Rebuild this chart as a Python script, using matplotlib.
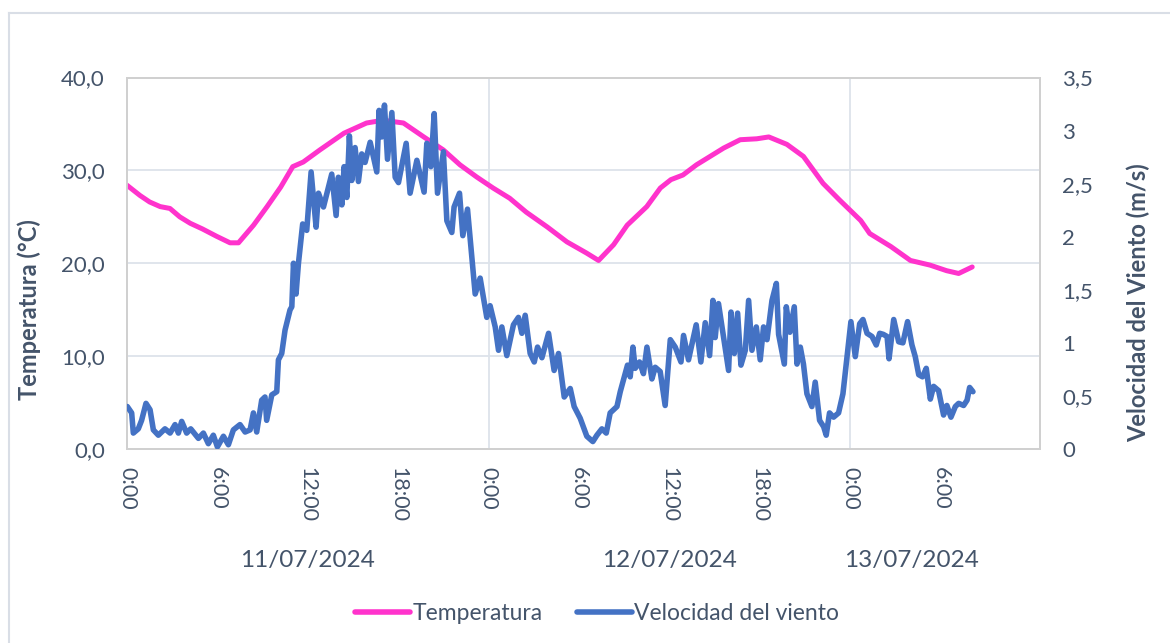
import matplotlib
matplotlib.use('Agg')
import matplotlib.pyplot as plt
from matplotlib.lines import Line2D
from matplotlib.ticker import FuncFormatter
from matplotlib import transforms

# hours since 11/07/2024 0:00
temp_hours = [0.0, 0.86, 1.5, 2.2, 2.85, 3.5, 4.2, 5.0, 5.95, 6.84, 7.4, 8.4, 9.3,
              10.2, 11.0, 11.7, 12.8, 14.4, 15.9, 17.0, 18.35, 19.7, 21.0, 22.1,
              23.2, 24.3, 25.4, 26.5, 27.9, 29.2, 30.5, 31.3, 32.3, 33.2, 34.5,
              35.4, 36.1, 36.9, 37.8, 38.7, 39.6, 40.7, 41.8, 42.6, 43.8, 44.9,
              46.2, 47.3, 48.7, 49.3, 50.7, 52.0, 53.3, 54.4, 55.2, 56.1]
temperatura = [28.4, 27.3, 26.6, 26.1, 25.9, 25.0, 24.3, 23.7, 22.9, 22.2, 22.2, 24.1, 26.1,
               28.2, 30.4, 30.9, 32.2, 34.0, 35.1, 35.4, 35.1, 33.6, 32.2, 30.6,
               29.3, 28.1, 27.0, 25.5, 23.9, 22.3, 21.1, 20.3, 22.0, 24.1, 26.1,
               28.1, 29.0, 29.5, 30.6, 31.5, 32.4, 33.3, 33.4, 33.6, 32.8, 31.5,
               28.6, 26.8, 24.6, 23.2, 21.8, 20.3, 19.8, 19.2, 18.9, 19.6]

wind_hours = [0.02, 0.31, 0.42, 0.75, 0.97, 1.26, 1.53, 1.75, 2.08, 2.52, 2.86, 3.19,
              3.41, 3.63, 3.96, 4.23, 4.74, 5.07, 5.40, 5.73, 6.0, 6.40, 6.73, 7.06,
              7.50, 7.84, 8.17, 8.39, 8.61, 8.94, 9.16, 9.27, 9.61, 9.94, 10.05,
              10.27, 10.49, 10.82, 10.94, 11.05, 11.22, 11.38,
              11.66, 11.93, 12.22, 12.55, 12.71, 13.04, 13.59, 13.88, 14.03, 14.26,
              14.41, 14.59, 14.76, 14.92, 15.14, 15.36, 15.58, 15.80, 16.14, 16.58,
              16.73, 16.91, 17.09, 17.29, 17.58, 17.80, 18.02, 18.53, 18.79, 19.24,
              19.72, 19.90, 20.17, 20.39, 20.61, 21.0, 21.23, 21.56, 21.71, 22.07,
              22.29, 22.60, 22.89, 23.11, 23.44,
              23.88, 24.10, 24.44, 24.66, 24.88, 25.21, 25.65, 25.98, 26.21, 26.43,
              26.76, 27.03, 27.25, 27.54, 27.98, 28.35, 28.64, 29.02, 29.42, 29.68,
              30.08, 30.52, 30.92, 31.19, 31.52, 31.81, 32.07, 32.52, 32.74, 33.22,
              33.40, 33.58, 33.73, 34.02, 34.28, 34.51, 34.84, 35.06,
              35.39, 35.72, 36.06, 36.39, 36.77, 36.94, 37.27, 37.78, 38.09, 38.38,
              38.67, 38.89, 39.04, 39.26, 39.60, 39.93, 40.09, 40.31, 40.53, 40.75,
              41.04, 41.26, 41.48, 41.77, 42.03, 42.25, 42.48, 42.81, 43.10, 43.25,
              43.63, 43.76, 44.0, 44.29, 44.47, 44.69, 44.90, 45.13, 45.46, 45.68,
              45.97, 46.24, 46.41, 46.63, 46.90, 47.23, 47.52, 47.79, 48.05, 48.34,
              48.63, 48.85, 49.12, 49.45, 49.73, 49.96, 50.20, 50.45, 50.58, 50.89,
              51.22, 51.50, 51.81, 52.10, 52.32, 52.55, 52.80, 53.05, 53.32, 53.54,
              53.87, 54.20, 54.42, 54.69, 54.98, 55.20, 55.53, 55.76, 55.93, 56.15]
viento = [0.40, 0.34, 0.15, 0.19, 0.27, 0.43, 0.37, 0.18, 0.13, 0.19, 0.15, 0.23,
          0.15, 0.26, 0.15, 0.19, 0.10, 0.15, 0.05, 0.13, 0.02, 0.12, 0.04, 0.18,
          0.23, 0.16, 0.18, 0.34, 0.16, 0.46, 0.49, 0.27, 0.51, 0.54, 0.84,
          0.90, 1.12, 1.31, 1.34, 1.75, 1.46, 1.75,
          2.12, 2.06, 2.61, 2.09, 2.41, 2.28, 2.59, 2.20, 2.56, 2.30,
          2.66, 2.37, 2.95, 2.53, 2.84, 2.52, 2.78, 2.70, 2.89, 2.61,
          3.19, 2.94, 3.24, 2.73, 3.17, 2.56, 2.51, 2.88, 2.41, 2.72,
          2.42, 2.88, 2.66, 3.16, 2.41, 2.80, 2.15, 2.04, 2.28, 2.41,
          2.01, 2.26, 1.81, 1.46, 1.61,
          1.24, 1.35, 1.15, 0.93, 1.15, 0.88, 1.17, 1.24, 1.09, 1.26,
          0.90, 0.82, 0.96, 0.86, 1.09, 0.74, 0.90, 0.49, 0.57, 0.40,
          0.29, 0.12, 0.07, 0.13, 0.19, 0.15, 0.34, 0.40, 0.54, 0.79,
          0.68, 0.96, 0.76, 0.82, 0.71, 0.96, 0.66, 0.77,
          0.73, 0.41, 1.03, 0.96, 0.82, 1.07, 0.84, 1.17, 0.82, 1.19,
          0.88, 1.40, 1.05, 1.37, 1.05, 0.74, 1.29, 0.90, 1.28, 0.79,
          0.93, 1.40, 0.93, 1.15, 0.84, 1.15, 1.03, 1.40, 1.56, 1.08,
          0.80, 1.34, 1.10, 1.34, 0.80, 0.96, 0.80, 0.52, 0.40, 0.63,
          0.27, 0.21, 0.13, 0.34, 0.30, 0.34, 0.52, 0.87, 1.20, 0.87,
          1.18, 1.22, 1.09, 1.06, 0.98, 1.09, 1.08, 1.06, 0.85, 1.22,
          1.01, 1.00, 1.20, 0.98, 0.87, 0.70, 0.68, 0.76, 0.47, 0.59,
          0.55, 0.32, 0.41, 0.30, 0.40, 0.43, 0.41, 0.46, 0.58, 0.54]

day_labels = ['11/07/2024', '12/07/2024', '13/07/2024']

TEXT = '#44546A'
PINK = '#FF33CC'
BLUE = '#4472C4'
GRID = '#DDE3EA'
FRAME = '#D0D0D0'

plt.rcParams['font.family'] = ['Lato', 'DejaVu Sans']

fig = plt.figure(figsize=(11.7, 6.43), dpi=100)
ax = fig.add_axes([127 / 1170, 1 - 449 / 643, (1040 - 127) / 1170, (449 - 77.5) / 643])
ax2 = ax.twinx()

ax.plot(temp_hours, temperatura, color=PINK, lw=3.6, solid_capstyle='round',
        solid_joinstyle='round', zorder=3)
ax2.plot(wind_hours, viento, color=BLUE, lw=4.0, solid_capstyle='round',
         solid_joinstyle='round', zorder=3)

ax.set_xlim(0, 60.6)
ax.set_ylim(0, 40)
ax2.set_ylim(0, 3.5)

ax.set_yticks([0, 10, 20, 30, 40])
ax.yaxis.set_major_formatter(FuncFormatter(lambda v, p: f'{v:.1f}'.replace('.', ',')))
ax2.set_yticks([0, 0.5, 1, 1.5, 2, 2.5, 3, 3.5])
ax2.yaxis.set_major_formatter(FuncFormatter(lambda v, p: f'{v:g}'.replace('.', ',')))

xt = list(range(0, 55, 6))
ax.set_xticks(xt)
ax.set_xticklabels([f'{h % 24}:00' for h in xt], rotation=-90)

ax.tick_params(axis='x', length=0, pad=13, labelsize=15.5, labelcolor=TEXT)
ax.tick_params(axis='y', length=0, pad=16, labelsize=16, labelcolor=TEXT)
ax2.tick_params(axis='y', length=0, pad=16, labelsize=16, labelcolor=TEXT)

for a in (ax, ax2):
    for s in a.spines.values():
        s.set_color(FRAME)
        s.set_linewidth(1.3)

ax.grid(False)
for v in [10, 20, 30]:
    ax.axhline(v, color=GRID, lw=1.3, zorder=1)
for d in [24, 48]:
    ax.axvline(d, color=GRID, lw=1.3, zorder=1)

ax.set_ylabel('Temperatura (°C)', fontsize=17, fontweight='bold', color=TEXT)
ax.yaxis.set_label_coords(-(127 - 41) / 913, (449 - 310) / 371.5)
ax2.set_ylabel('Velocidad del Viento (m/s)', fontsize=17, fontweight='bold', color=TEXT,
               rotation=90)
ax2.yaxis.set_label_coords(1 + (1127 - 1040) / 913, (449 - 303) / 371.5)

# date group labels below the hour ticks
trans = transforms.blended_transform_factory(ax.transData, fig.transFigure)
last = max(max(temp_hours), max(wind_hours))
centers = [12, 36, (48 + last) / 2]
for c, lab in zip(centers, day_labels):
    fig.text(c, 1 - 560 / 643, lab, transform=trans, ha='center', va='center',
             fontsize=17.5, color=TEXT)

handles = [Line2D([], [], color=PINK, lw=4, solid_capstyle='round'),
           Line2D([], [], color=BLUE, lw=4, solid_capstyle='round')]
fig.legend(handles, ['Temperatura', 'Velocidad del viento'], loc='center',
           bbox_to_anchor=(597 / 1170, 1 - 614 / 643), ncol=2, frameon=False,
           fontsize=16.5, labelcolor=TEXT, handlelength=2.4, handletextpad=0.1,
           columnspacing=1.5)

# outer chart border (left and top edges visible)
fig.add_artist(Line2D([8.5 / 1170, 8.5 / 1170], [0, 1 - 13 / 643],
                      transform=fig.transFigure, color='#D9DEE6', lw=1.5))
fig.add_artist(Line2D([8.5 / 1170, 1], [1 - 13 / 643, 1 - 13 / 643],
                      transform=fig.transFigure, color='#D9DEE6', lw=1.5))

fig.savefig('out.png', dpi=100)
